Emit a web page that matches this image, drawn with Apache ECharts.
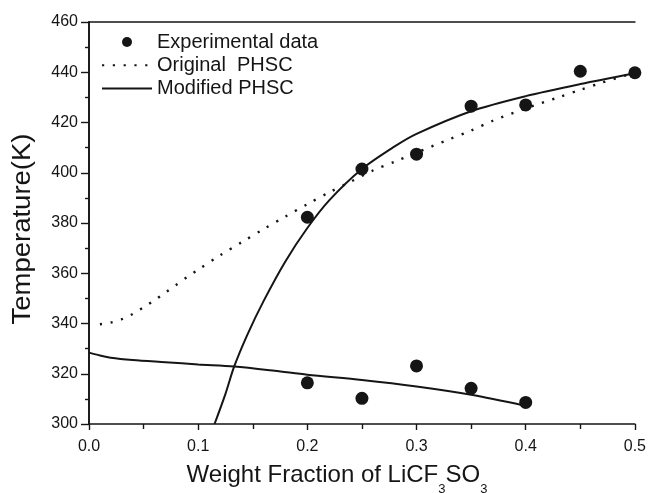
<!DOCTYPE html>
<html>
<head>
<meta charset="utf-8">
<script src="https://cdn.jsdelivr.net/npm/echarts@6/dist/echarts.min.js"></script>
<style>
  html, body { margin: 0; padding: 0; background: #fff; }
  #chart { width: 649px; height: 493px; }
</style>
</head>
<body>
<div id="chart"></div>
<script>
// experimental points, upper (liquidus) and lower (solidus) branch
var expLiqX = [0.2, 0.25, 0.3, 0.35, 0.4, 0.45, 0.5];
var expLiqT = [382.3, 401.5, 407.4, 426.5, 427.0, 440.4, 439.8];
var expSolX = [0.2, 0.25, 0.3, 0.35, 0.4];
var expSolT = [316.4, 310.2, 323.1, 314.2, 308.6];

// original PHSC (dotted curve)
var origX = [0.01, 0.02, 0.03, 0.04, 0.05, 0.06, 0.07, 0.08, 0.09, 0.10, 0.12, 0.14, 0.16, 0.18,
             0.20, 0.22, 0.24, 0.26, 0.28, 0.30, 0.33, 0.35, 0.37, 0.40, 0.43, 0.45, 0.47, 0.50];
var origT = [339.7, 340.4, 341.7, 343.8, 346.5, 349.3, 352.3, 355.4, 358.5, 361.4, 367.1, 372.4, 377.6, 382.6,
             387.5, 392.2, 396.5, 400.9, 404.4, 408.0, 413.3, 416.8, 420.7, 425.6, 430.0, 433.0, 435.9, 439.8];

// modified PHSC, liquidus branch
var modLiqX = [0.115, 0.125, 0.133, 0.145, 0.16, 0.18, 0.2, 0.22, 0.25, 0.28, 0.3, 0.35, 0.4, 0.45, 0.5];
var modLiqT = [300, 312, 322.9, 335.5, 349, 364.8, 378, 389, 401.5, 410.5, 415.5, 424.5, 430.5, 435.3, 439.6];

// modified PHSC, solidus branch
var modSolX = [0, 0.01, 0.02, 0.04, 0.07, 0.1, 0.133, 0.17, 0.2, 0.25, 0.3, 0.35, 0.4];
var modSolT = [328.4, 327.3, 326.4, 325.5, 324.6, 323.7, 322.9, 321.2, 319.6, 317.5, 314.9, 311.6, 307.2];

var legendNames = ["Experimental data", "Original  PHSC", "Modified PHSC"];

var ink = "#151515";
var FONT = '"Liberation Sans", Arial, Helvetica, sans-serif';

function pairs(xs, ys) {
  var res = [];
  for (var i = 0; i < xs.length; i++) res.push([xs[i], ys[i]]);
  return res;
}

var chart = echarts.init(document.getElementById("chart"));
var axisLine = { lineStyle: { color: ink, width: 1.6 } };

var option = {
  animation: false,
  backgroundColor: "#fff",
  grid: { left: 89, right: 12, top: 22, bottom: 69 },
  legend: {
    orient: "vertical",
    left: 96,
    top: 27,
    itemWidth: 50,
    itemHeight: 10,
    itemGap: 3.3,
    // line entries: hide the little circle echarts puts in the middle of the line icon
    data: [
      { name: legendNames[0] },
      { name: legendNames[1], itemStyle: { opacity: 0 } },
      { name: legendNames[2], itemStyle: { opacity: 0 } }
    ],
    textStyle: { color: ink, fontSize: 20, fontFamily: FONT }
  },
  xAxis: [
    {
      type: "value",
      min: 0,
      max: 0.5,
      interval: 0.1,
      axisLine: axisLine,
      axisTick: { show: true, inside: false, length: 6, lineStyle: { color: ink, width: 1.4 } },
      minorTick: { show: true, splitNumber: 2, length: 5, lineStyle: { color: ink, width: 1.4 } },
      splitLine: { show: false },
      axisLabel: {
        color: ink, fontSize: 16, fontFamily: FONT, margin: 15,
        formatter: function (v) { return v.toFixed(1); }
      }
    },
    {
      type: "value",
      position: "top",
      min: 0,
      max: 0.5,
      interval: 0.1,
      axisLine: axisLine,
      axisTick: { show: false },
      axisLabel: { show: false },
      splitLine: { show: false }
    }
  ],
  yAxis: [
    {
      type: "value",
      min: 300,
      max: 460,
      interval: 20,
      axisLine: axisLine,
      axisTick: { show: true, inside: false, length: 8, lineStyle: { color: ink, width: 1.4 } },
      minorTick: { show: true, splitNumber: 2, length: 4, lineStyle: { color: ink, width: 1.4 } },
      splitLine: { show: false },
      axisLabel: { color: ink, fontSize: 16, fontFamily: FONT, margin: 11 }
    },
    {
      type: "value",
      position: "right",
      min: 300,
      max: 460,
      interval: 20,
      axisLine: axisLine,
      axisTick: { show: true, inside: true, length: 3, lineStyle: { color: ink, width: 1 } },
      axisLabel: { show: false },
      splitLine: { show: false }
    }
  ],
  graphic: [
    {
      type: "text",
      x: 337,
      y: 475.5,
      style: {
        text: "Weight Fraction of LiCF{s|3}SO{s|3}",
        fontSize: 24,
        fontFamily: FONT,
        fill: ink,
        align: "center",
        verticalAlign: "middle",
        lineHeight: 40,
        rich: {
          s: { fontSize: 13, fontFamily: FONT, lineHeight: 14, verticalAlign: "bottom", fill: ink }
        }
      }
    },
    {
      type: "text",
      x: 23,
      y: 229,
      rotation: Math.PI / 2,
      scaleX: 1.1,
      style: {
        text: "Temperature(K)",
        fontSize: 25,
        fontFamily: FONT,
        fill: ink,
        align: "center",
        verticalAlign: "middle"
      }
    }
  ],
  series: [
    {
      name: "Original  PHSC",
      type: "line",
      smooth: 0.3,
      symbol: "none",
      lineStyle: { color: ink, width: 2.4, type: [2.2, 8.6] },
      itemStyle: { color: ink },
      data: pairs(origX, origT)
    },
    {
      name: "Modified PHSC",
      type: "line",
      smooth: 0.3,
      symbol: "none",
      lineStyle: { color: ink, width: 2 },
      itemStyle: { color: ink },
      data: pairs(modLiqX, modLiqT)
    },
    {
      name: "Modified PHSC",
      type: "line",
      smooth: 0.3,
      symbol: "none",
      lineStyle: { color: ink, width: 2 },
      itemStyle: { color: ink },
      data: pairs(modSolX, modSolT)
    },
    {
      name: "Experimental data",
      type: "scatter",
      symbol: "circle",
      symbolSize: 13,
      z: 5,
      itemStyle: { color: ink, opacity: 1 },
      data: pairs(expLiqX, expLiqT).concat(pairs(expSolX, expSolT))
    }
  ]
};

option && chart.setOption(option);
</script>
</body>
</html>
